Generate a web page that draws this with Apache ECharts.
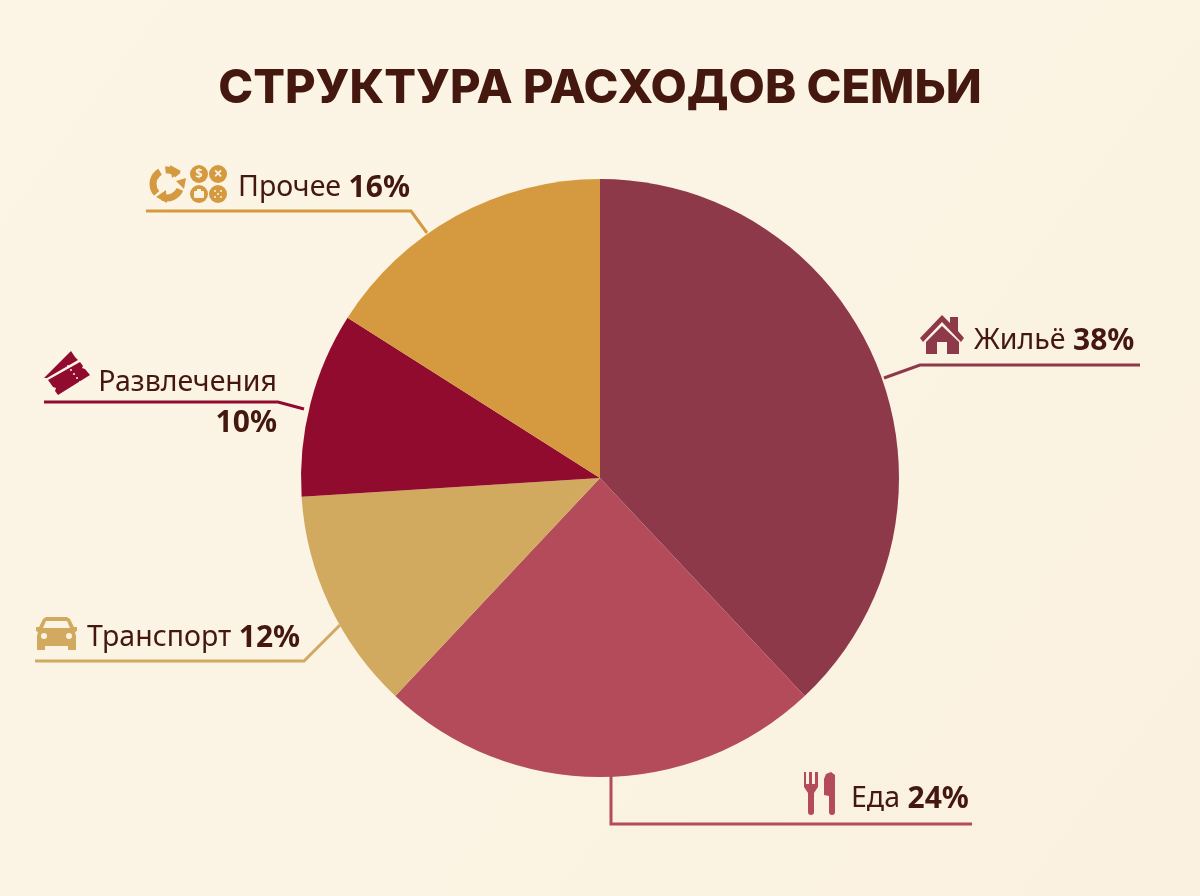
<!DOCTYPE html>
<html lang="ru">
<head>
    <meta charset="UTF-8">
    <title>Структура расходов семьи</title>
    <script src="https://cdn.jsdelivr.net/npm/echarts@6/dist/echarts.min.js"></script>
    <style>
        html, body { margin: 0; padding: 0; }
        #chart { width: 1200px; height: 896px; }
    </style>
</head>
<body>
<div id="chart"></div>
<script type="text/javascript">
    var categories = ['Жильё', 'Еда', 'Транспорт', 'Развлечения', 'Прочее'];
    var shares = [38, 24, 12, 10, 16];
    var sliceColors = ['#8E3949', '#B34B5B', '#D2AA5F', '#910B2E', '#D59A40'];

    var bg = '#FBF3E3';
    var ink = '#44170F';
    var font = '"Noto Sans", sans-serif';

    // where each label sits and how its leader line runs
    var labelPlaces = [
        { x: 974, y: 341, align: 'left', line: [[884, 378], [920, 365], [1140, 365]] },
        { x: 851, y: 799, align: 'left', line: [[611, 776], [611, 824], [972, 824]] },
        { x: 87, y: 638, align: 'left', line: [[340, 625], [304, 661], [35, 661]] },
        { x: 277, y: 403, align: 'right', line: [[304, 409], [278, 402], [44, 402]] },
        { x: 238, y: 188, align: 'left', line: [[427, 233], [411, 211], [146, 211]] }
    ];

    function poly(points, fill) {
        return { type: 'polygon', silent: true, shape: { points: points }, style: { fill: fill } };
    }

    function dot(cx, cy, r, fill) {
        return { type: 'circle', silent: true, shape: { cx: cx, cy: cy, r: r }, style: { fill: fill } };
    }

    function rect(x, y, w, h, r, fill) {
        return { type: 'rect', silent: true, shape: { x: x, y: y, width: w, height: h, r: r }, style: { fill: fill } };
    }

    function glyph(t, x, y, size) {
        return {
            type: 'text', silent: true, x: x, y: y,
            style: { text: t, fill: bg, font: 'bold ' + size + 'px ' + font, textAlign: 'center', textVerticalAlign: 'middle' }
        };
    }

    function bend(cx, cy, r, a0, a1, col) {
        return {
            type: 'arc', silent: true,
            shape: { cx: cx, cy: cy, r: r, startAngle: a0, endAngle: a1, clockwise: true },
            style: { stroke: col, fill: null, lineWidth: 7 }
        };
    }

    // icons
    var houseC = sliceColors[0], foodC = sliceColors[1], carC = sliceColors[2], funC = sliceColors[3], miscC = sliceColors[4];
    var icons = [
        // дом
        poly([[920, 338], [942, 315], [950, 323], [950, 317], [958, 317], [958, 331], [964, 338], [961, 342], [942, 322], [923, 342]], houseC),
        poly([[926, 342], [942, 326], [959, 342], [959, 354], [947, 354], [947, 342], [937, 342], [937, 354], [926, 354]], houseC),
        // вилка и нож
        poly([[804, 772], [806, 772], [806, 784], [809, 784], [809, 772], [812, 772], [812, 784], [815, 784], [815, 772], [818, 772], [818, 787], [814, 793], [814, 812], [808, 812], [808, 793], [804, 787]], foodC),
        dot(811, 812, 3, foodC),
        poly([[824, 779], [826, 774], [831, 772], [835, 775], [835, 812], [829, 812], [829, 796], [824, 795]], foodC),
        dot(832, 812, 3, foodC),
        // машина
        poly([[43, 619], [46, 617], [67, 617], [70, 619], [74, 627], [77, 627], [77, 631], [75, 632], [76, 636], [76, 650], [68, 650], [68, 646], [45, 646], [45, 650], [37, 650], [37, 636], [38, 632], [36, 631], [36, 627], [39, 627]], carC),
        poly([[46, 621], [67, 621], [70, 628], [43, 628]], bg),
        dot(44, 636, 3, bg),
        dot(69, 636, 3, bg),
        // билеты
        poly([[44, 378], [71, 351], [75, 357], [78, 360], [47, 378]], funC),
        poly([[48, 380], [80, 362], [83, 366], [82, 368], [85, 369], [90, 375], [58, 395], [55, 391], [56, 388], [53, 387]], funC),
        dot(68, 366, 1, bg), dot(71, 370, 1, bg), dot(74, 374, 1, bg), dot(77, 378, 1, bg), dot(80, 382, 1, bg),
        // стрелки круговорота
        bend(167, 184, 14, 2.4, 4.2, miscC),
        bend(167, 184, 14, 4.6, 5.6, miscC),
        bend(167, 184, 14, 0.4, 1.9, miscC),
        poly([[156, 197], [166, 190], [167, 203]], miscC),
        poly([[170, 165], [181, 171], [172, 178]], miscC),
        poly([[176, 181], [186, 178], [184, 189]], miscC),
        // четыре кружка
        dot(199, 174, 9, miscC), dot(218, 174, 9, miscC), dot(199, 194, 9, miscC), dot(218, 194, 9, miscC),
        glyph('$', 199, 174, 13),
        glyph('×', 218, 174, 16),
        rect(194, 191, 10, 7, 1, bg),
        rect(197, 189, 4, 2, 0, bg),
        dot(215, 191, 1, bg), dot(221, 191, 1, bg), dot(218, 194, 1, bg), dot(215, 197, 1, bg), dot(221, 197, 1, bg)
    ];

    var chart = echarts.init(document.getElementById('chart'), null, { renderer: 'canvas' });
    var option = {
        animation: false,
        backgroundColor: new echarts.graphic.LinearGradient(0, 0, 1, 1, [
            { offset: 0, color: '#FCF5E6' },
            { offset: 1, color: '#FAF1E0' }
        ]),
        title: {
            text: 'СТРУКТУРА РАСХОДОВ СЕМЬИ',
            left: 'center',
            top: 60,
            textStyle: { color: ink, fontFamily: 'Inter, sans-serif', fontWeight: 800, fontSize: 47 }
        },
        graphic: icons,
        series: [{
            type: 'pie',
            silent: true,
            center: [600, 478],
            radius: [0, 299],
            startAngle: 90,
            clockwise: true,
            data: categories.map(function (name, i) {
                return { name: name, value: shares[i], itemStyle: { color: sliceColors[i] } };
            }),
            label: {
                show: true,
                position: 'outside',
                color: ink,
                fontFamily: font,
                fontSize: 29,
                formatter: function (d) {
                    var sep = d.dataIndex === 3 ? '\n' : ' ';
                    return '{n|' + d.name + '}' + sep + '{v|' + d.value + '%}';
                },
                rich: {
                    n: { fontSize: 28.5, fontFamily: font, color: ink, lineHeight: 41 },
                    v: { fontSize: 30, fontFamily: font, fontWeight: 'bold', color: ink, lineHeight: 41 }
                }
            },
            labelLine: { show: true, lineStyle: { width: 3 } },
            labelLayout: function (params) {
                var place = labelPlaces[params.dataIndex];
                return {
                    x: place.x,
                    y: place.y,
                    align: place.align,
                    verticalAlign: 'middle',
                    labelLinePoints: place.line
                };
            }
        }]
    };
    chart.setOption(option);
</script>
</body>
</html>
